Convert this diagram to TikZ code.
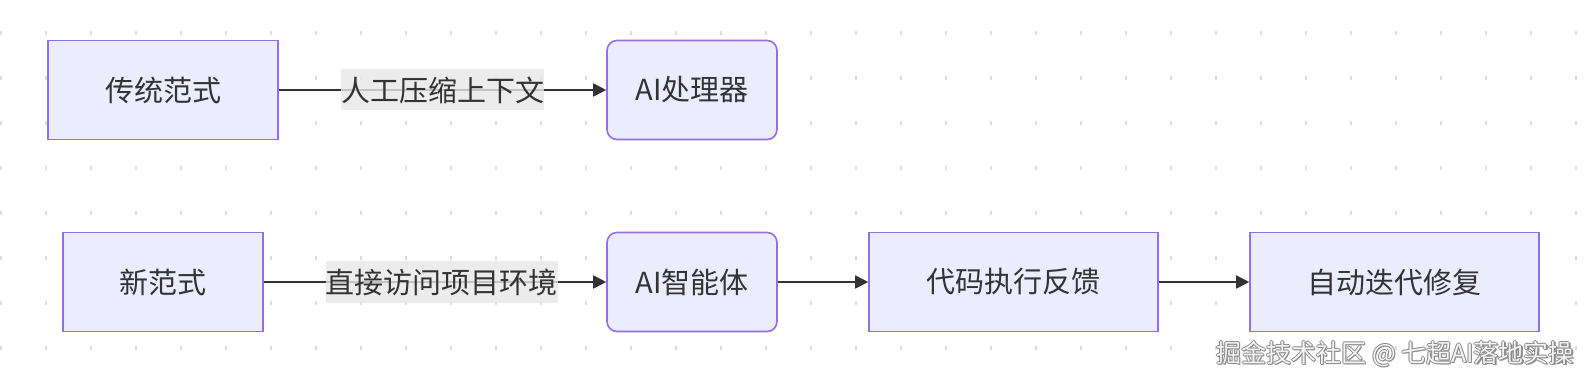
\documentclass[tikz,border=0pt]{standalone}
\usepackage{fontspec}
\setmainfont{Noto Sans CJK SC}
\usetikzlibrary{arrows.meta}
\definecolor{boxfill}{HTML}{ECECFF}
\definecolor{boxline}{HTML}{9370DB}
\definecolor{txt}{HTML}{333333}
\definecolor{lblbg}{HTML}{E8E8E8}
\definecolor{dotc}{HTML}{DDDDDD}
\definecolor{wmline}{HTML}{8A8A8A}
\definecolor{wmfill}{HTML}{F4F4F4}
\tikzset{
  box/.style={draw=boxline, fill=boxfill, line width=1.6pt, text=txt,
    minimum height=99pt, inner sep=0pt, font=\fontsize{29}{32}\selectfont},
  rbox/.style={box, rounded corners=10pt},
  conn/.style={draw=txt, line width=1.8pt, -{Triangle[length=13pt,width=13pt]}},
  elabel/.style={fill=lblbg, fill opacity=0.8, text opacity=1, text=txt,
    inner xsep=0pt, inner ysep=0pt, minimum height=41pt,
    font=\fontsize{29}{32}\selectfont},
  wmstyle/.style={anchor=east, inner sep=0pt, font=\fontsize{25}{28}\selectfont},
}
\newcommand{\wmtext}{掘金技术社区 @ 七超AI落地实操}
\begin{document}
\begin{tikzpicture}[x=1pt,y=-1pt]
\useasboundingbox (0,0) rectangle (1588,382);
\fill[white] (0,0) rectangle (1588,382);
\foreach \i in {0,...,35}{
  \foreach \j in {0,...,7}{
    \fill[dotc] ({45*\i}, {31+45*\j}) rectangle ({45*\i+2}, {35+45*\j});
  }
}
\node[box, minimum width=230pt] (a) at (163,90) {传统范式};
\node[rbox, minimum width=170pt] (b) at (692,90) {AI处理器};
\node[box, minimum width=200pt] (c) at (163,282) {新范式};
\node[rbox, minimum width=170pt] (d) at (692,282) {AI智能体};
\node[box, minimum width=289pt] (e) at (1013.5,282) {代码执行反馈};
\node[box, minimum width=289pt] (f) at (1394.5,282) {自动迭代修复};
\draw[conn] (a) -- node[elabel, pos=0.5] (la) {人工压缩上下文} (b);
\draw[conn] (c) -- node[elabel, pos=0.52] (lc) {直接访问项目环境} (d);
\draw[conn] (d) -- (e);
\draw[conn] (e) -- (f);
\foreach \dx/\dy in {-1/0,1/0,0/-1,0/1,1.5/1.5}{
  \node[wmstyle, text=wmline] at ({1574+\dx},{354+\dy}) {\wmtext};
}
\node[wmstyle, text=wmfill] (wmk) at (1574,354) {\wmtext};
\end{tikzpicture}
\end{document}
